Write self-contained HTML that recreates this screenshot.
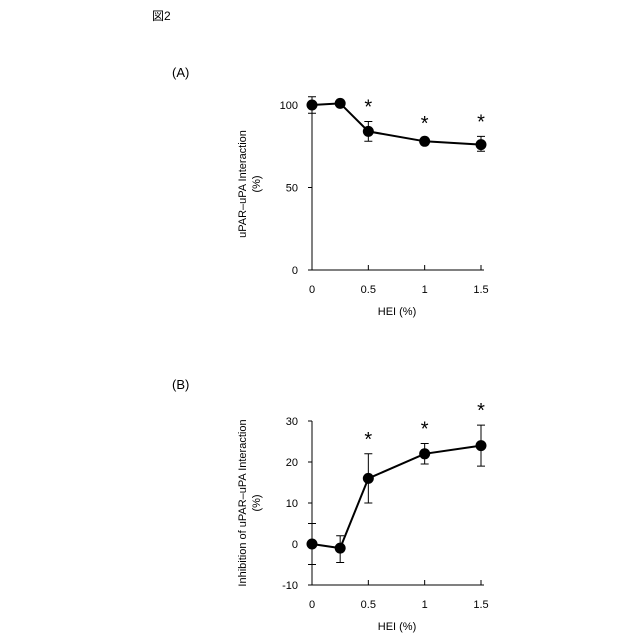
<!DOCTYPE html>
<html><head><meta charset="utf-8"><style>
body{margin:0;background:#fff;}
svg{display:block;font-family:"Liberation Sans","Noto Sans CJK JP",sans-serif;}
</style></head><body>
<svg id="fig" width="640" height="640" viewBox="0 0 640 640">
<text x="152" y="20" font-size="12">図2</text>
<text x="172" y="77" font-size="13">(A)</text>
<text x="172" y="389" font-size="13">(B)</text>
<g id="ga"></g>
<g id="gb"></g>
</svg>
<script>
const xCats=[0,0.25,0.5,1,1.5];
const xTicks=[0,0.5,1,1.5];
const xTickLabels=["0","0.5","1","1.5"];
const aValues=[100,101,84,78,76];
const aErrLo=[95,99,78,76,72];
const aErrHi=[105,103,90,80,81];
const aSig=[false,false,true,true,true];
const aYTicks=[0,50,100];
const bValues=[0,-1,16,22,24];
const bErrLo=[-5,-4.5,10,19.5,19];
const bErrHi=[5,2,22,24.5,29];
const bSig=[false,false,true,true,true];
const bYTicks=[-10,0,10,20,30];
const NS="http://www.w3.org/2000/svg";
function mk(p,t,a){const e=document.createElementNS(NS,t);for(const k in a)e.setAttribute(k,a[k]);p.appendChild(e);return e;}
function draw(g,cfg){
  const x=v=>312+(v/1.5)*169;
  const y=v=>cfg.y0px+(v-cfg.ymin)/(cfg.ymax-cfg.ymin)*(cfg.y1px-cfg.y0px);
  const ax=mk(g,'path',{d:`M312 ${cfg.topPx} V${cfg.y0px} H484`,stroke:'#000',fill:'none','stroke-width':1});
  
  
  cfg.yt.forEach(v=>{
    const t=mk(g,'line',{x1:308,x2:312,y1:y(v),y2:y(v),stroke:'#000'});
    
    
    const l=mk(g,'text',{x:298,y:y(v)+4,'font-size':11,'text-anchor':'end'});l.textContent=v;
    
    
  });
  xTicks.forEach((v,i)=>{
    const t=mk(g,'line',{x1:x(v),x2:x(v),y1:cfg.y0px,y2:cfg.y0px-5,stroke:'#000'});
    
    
    const l=mk(g,'text',{x:x(v),y:cfg.y0px+23,'font-size':11,'text-anchor':'middle'});l.textContent=xTickLabels[i];
    
    
  });
  const xt=mk(g,'text',{x:397,y:cfg.y0px+45,'font-size':11,'text-anchor':'middle'});xt.textContent='HEI (%)';
  
  
  const cy=(cfg.topPx+cfg.y0px)/2;
  const yt=mk(g,'text',{x:0,y:0,'font-size':11,'text-anchor':'middle',transform:`translate(246 ${cy}) rotate(-90)`});
  
  
  const t1=mk(yt,'tspan',{x:0,dy:0});t1.textContent=cfg.title;
  const t2=mk(yt,'tspan',{x:0,dy:14});t2.textContent='(%)';
  xCats.forEach((c,i)=>{
    const e=mk(g,'path',{d:`M${x(c)-4} ${y(cfg.lo[i])}H${x(c)+4}M${x(c)} ${y(cfg.lo[i])}V${y(cfg.hi[i])}M${x(c)-4} ${y(cfg.hi[i])}H${x(c)+4}`,stroke:'#000',fill:'none'});
    
    
  });
  const ln=mk(g,'polyline',{points:xCats.map((c,i)=>x(c)+','+y(cfg.v[i])).join(' '),stroke:'#000',fill:'none','stroke-width':2});
  
  
  xCats.forEach((c,i)=>{
    const p=mk(g,'circle',{cx:x(c),cy:y(cfg.v[i]),r:5.5,fill:'#000'});
    
    
    if(cfg.sig[i]){
      const s=mk(g,'text',{x:x(c),y:y(cfg.hi[i])-8,'font-size':20,'text-anchor':'middle'});s.textContent='*';
      
      
    }
  });
}
draw(document.getElementById('ga'),{ymin:0,ymax:100,y0px:270,y1px:105,topPx:98,yt:aYTicks,v:aValues,lo:aErrLo,hi:aErrHi,sig:aSig,title:'uPAR–uPA Interaction'});
draw(document.getElementById('gb'),{ymin:-10,ymax:30,y0px:585,y1px:421,topPx:421,yt:bYTicks,v:bValues,lo:bErrLo,hi:bErrHi,sig:bSig,title:'Inhibition of uPAR–uPA Interaction'});
</script>
</body></html>
